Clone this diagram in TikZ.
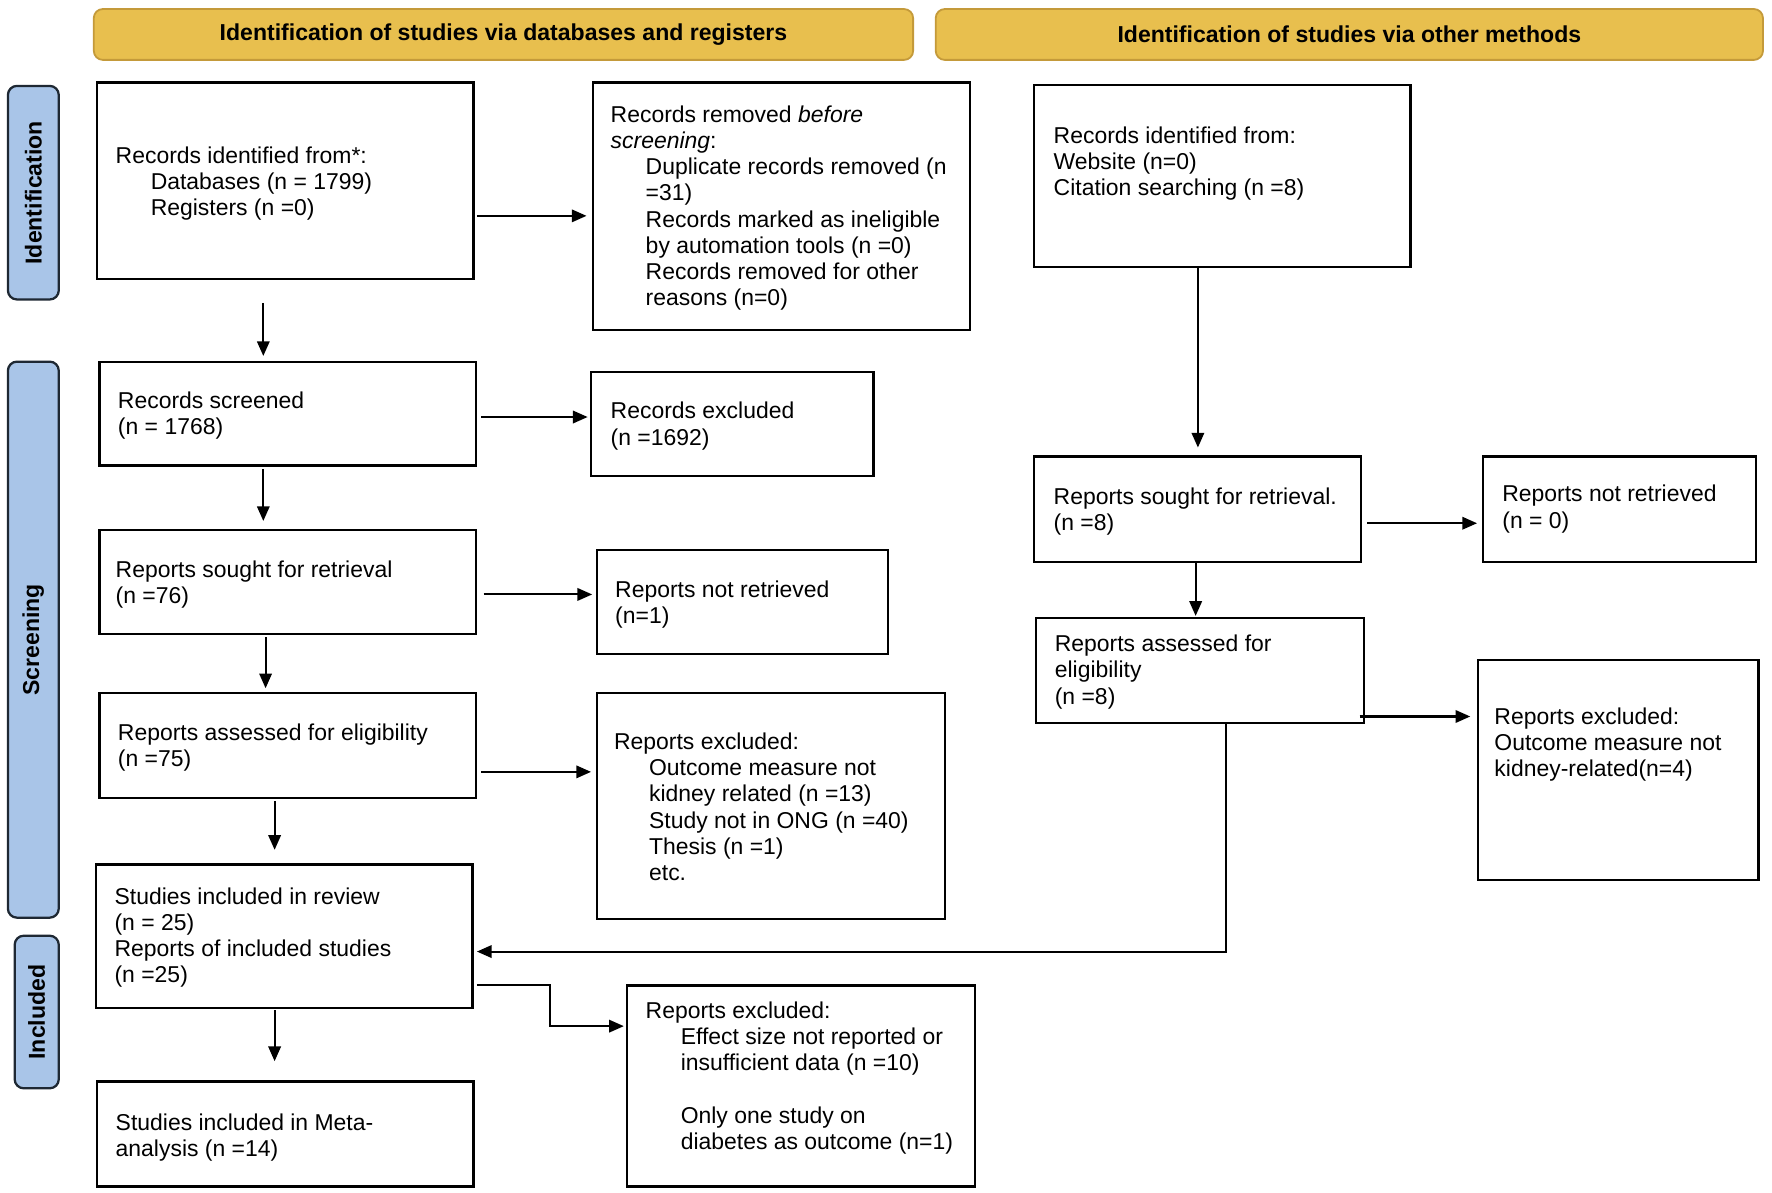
\documentclass[tikz,border=0pt]{standalone}
\usepackage{fontspec}
\setmainfont{Liberation Sans}
\usetikzlibrary{arrows.meta,fit}
\definecolor{hdrfill}{HTML}{E8BF4E}
\definecolor{hdrdraw}{HTML}{C49A3A}
\definecolor{sidefill}{HTML}{A9C5E8}
\definecolor{sidedraw}{HTML}{1E2833}
\newcommand{\indt}{\hspace*{15.5pt}}
\begin{document}
\begin{tikzpicture}[x=0.5pt,y=-0.5pt,
  box/.style={draw=black, line width=1pt, inner sep=0pt},
  txt/.style={anchor=west, align=left, inner sep=0pt, font=\fontsize{10.15pt}{11.6pt}\selectfont},
  hdr/.style={draw=hdrdraw, fill=hdrfill, line width=0.8pt, rounded corners=4pt, inner sep=0pt},
  hdrtxt/.style={inner sep=0pt, font=\fontsize{10.2pt}{12pt}\selectfont\bfseries},
  side/.style={draw=sidedraw, fill=sidefill, line width=1pt, rounded corners=4pt, inner sep=0pt},
  sidetxt/.style={rotate=90, inner sep=0pt, font=\fontsize{10.2pt}{12pt}\selectfont\bfseries},
  arr/.style={line width=0.9pt, -{Triangle[length=6.5pt,width=5.5pt]}}
]
\useasboundingbox (0,0) rectangle (1568,1055);

% headers
\node[hdr, fit={(83,8) (808,53)}] (h1) {};
\node[hdrtxt] at (h1.center) {Identification of studies via databases and registers};
\node[hdr, fit={(828,8) (1560,53)}] (h2) {};
\node[hdrtxt] at (h2.center) {Identification of studies via other methods};

% side labels
\node[side, fit={(7,76) (52,265)}] (s1) {};
\node[sidetxt] at (s1.center) {Identification};
\node[side, fit={(7,320) (52,812)}] (s2) {};
\node[sidetxt] at (s2.center) {Screening};
\node[side, fit={(13,828) (52,963)}] (s3) {};
\node[sidetxt] at (s3.center) {Included};

% boxes
\node[box, fit={(86,73) (419,247)}] (a) {};
\node[box, fit={(525,73) (858,292)}] (b) {};
\node[box, fit={(915,75) (1248,236)}] (c) {};
\node[box, fit={(88,320) (421,412)}] (d) {};
\node[box, fit={(523,329) (773,421)}] (e) {};
\node[box, fit={(88,469) (421,561)}] (f) {};
\node[box, fit={(528,487) (786,579)}] (g) {};
\node[box, fit={(88,613) (421,706)}] (h) {};
\node[box, fit={(528,613) (836,813)}] (i) {};
\node[box, fit={(85,765) (418,892)}] (j) {};
\node[box, fit={(86,957) (419,1050)}] (k) {};
\node[box, fit={(555,872) (863,1050)}] (l) {};
\node[box, fit={(915,404) (1204,497)}] (m) {};
\node[box, fit={(1312,404) (1554,497)}] (n) {};
\node[box, fit={(917,547) (1207,640)}] (o) {};
\node[box, fit={(1308,584) (1556,779)}] (p) {};

% texts
\node[txt] at ([xshift=8.5pt,yshift=-1.3pt]a.west) {Records identified from*:\\\indt Databases (n = 1799)\\\indt Registers (n =0)};
\node[txt] at ([xshift=8pt,yshift=-0.8pt]b.west) {Records removed \emph{before}\\\emph{screening}:\\\indt Duplicate records removed (n\\\indt =31)\\\indt Records marked as ineligible\\\indt by automation tools (n =0)\\\indt Records removed for other\\\indt reasons (n=0)};
\node[txt] at ([xshift=9pt,yshift=5.3pt]c.west) {Records identified from:\\Website (n=0)\\Citation searching (n =8)};
\node[txt] at ([xshift=8.5pt,yshift=-1pt]d.west) {Records screened\\(n = 1768)};
\node[txt] at ([xshift=9pt,yshift=-1pt]e.west) {Records excluded\\(n =1692)};
\node[txt] at ([xshift=7.5pt,yshift=-1pt]f.west) {Reports sought for retrieval\\(n =76)};
\node[txt] at ([xshift=8.5pt,yshift=-1pt]g.west) {Reports not retrieved\\(n=1)};
\node[txt] at ([xshift=8.5pt,yshift=-1pt]h.west) {Reports assessed for eligibility\\(n =75)};
\node[txt] at ([xshift=8pt,yshift=-0.5pt]i.west) {Reports excluded:\\\indt Outcome measure not\\\indt kidney related (n =13)\\\indt Study not in ONG (n =40)\\\indt Thesis (n =1)\\\indt etc.};
\node[txt] at ([xshift=8.5pt,yshift=-0.5pt]j.west) {Studies included in review\\(n = 25)\\Reports of included studies\\(n =25)};
\node[txt] at ([xshift=8.5pt,yshift=-1.5pt]k.west) {Studies included in Meta-\\analysis (n =14)};
\node[txt] at ([xshift=8.5pt,yshift=3.5pt]l.west) {Reports excluded:\\\indt Effect size not reported or\\\indt insufficient data (n =10)\\[11.6pt]\indt Only one study on\\\indt diabetes as outcome (n=1)};
\node[txt] at ([xshift=9pt,yshift=-1pt]m.west) {Reports sought for retrieval.\\(n =8)};
\node[txt] at ([xshift=9pt,yshift=0pt]n.west) {Reports not retrieved\\(n = 0)};
\node[txt] at ([xshift=8.5pt,yshift=-0.5pt]o.west) {Reports assessed for\\eligibility\\(n =8)};
\node[txt] at ([xshift=7.5pt,yshift=11.3pt]p.west) {Reports excluded:\\Outcome measure not\\kidney-related(n=4)};

% connector levels
\coordinate (yAB) at (0,191);
\coordinate (yDE) at (0,369);
\coordinate (yFG) at (0,526);
\coordinate (yHI) at (0,683);
\coordinate (yMN) at (0,463);
\coordinate (yOP) at (0,634);
\coordinate (yJL1) at (0,872);
\coordinate (yJL2) at (0,908);
\coordinate (xJL) at (487,0);
\coordinate (yOJ) at (0,842);
\coordinate (xOJ) at (1085,0);
\coordinate (x233) at (233,0);
\coordinate (x235) at (235,0);
\coordinate (x243) at (243,0);
\coordinate (x1060) at (1060,0);
\coordinate (x1058) at (1058,0);

% horizontal arrows
\draw[arr, shorten <=1pt, shorten >=2.5pt] (a.east |- yAB) -- (b.west |- yAB);
\draw[arr, shorten <=2pt, shorten >=1pt] (d.east |- yDE) -- (e.west |- yDE);
\draw[arr, shorten <=3pt, shorten >=1.5pt] (f.east |- yFG) -- (g.west |- yFG);
\draw[arr, shorten <=2pt, shorten >=2pt] (h.east |- yHI) -- (i.west |- yHI);
\draw[arr, shorten <=2.5pt, shorten >=2pt] (m.east |- yMN) -- (n.west |- yMN);
\draw[arr, shorten <=-2.5pt, shorten >=3pt] (o.east |- yOP) -- (p.west |- yOP);

% vertical arrows
\draw[arr, shorten <=10pt, shorten >=2pt] (a.south -| x233) -- (d.north -| x233);
\draw[arr, shorten <=1pt, shorten >=3.5pt] (d.south -| x233) -- (f.north -| x233);
\draw[arr, shorten <=1pt, shorten >=1.5pt] (f.south -| x235) -- (h.north -| x235);
\draw[arr, shorten <=1pt, shorten >=6pt] (h.south -| x243) -- (j.north -| x243);
\draw[arr, shorten <=0.5pt, shorten >=8.5pt] (j.south -| x243) -- (k.north -| x243);
\draw[arr, shorten >=3.5pt] (c.south -| x1060) -- (m.north -| x1060);
\draw[arr, shorten >=0.5pt] (m.south -| x1058) -- (o.north -| x1058);

% elbow connectors
\draw[arr, shorten <=1.5pt, shorten >=1pt] (j.east |- yJL1) -| (xJL |- yJL2) -- (l.west |- yJL2);
\draw[arr, shorten >=1.5pt] (o.south -| xOJ) |- (j.east |- yOJ);
\end{tikzpicture}
\end{document}
